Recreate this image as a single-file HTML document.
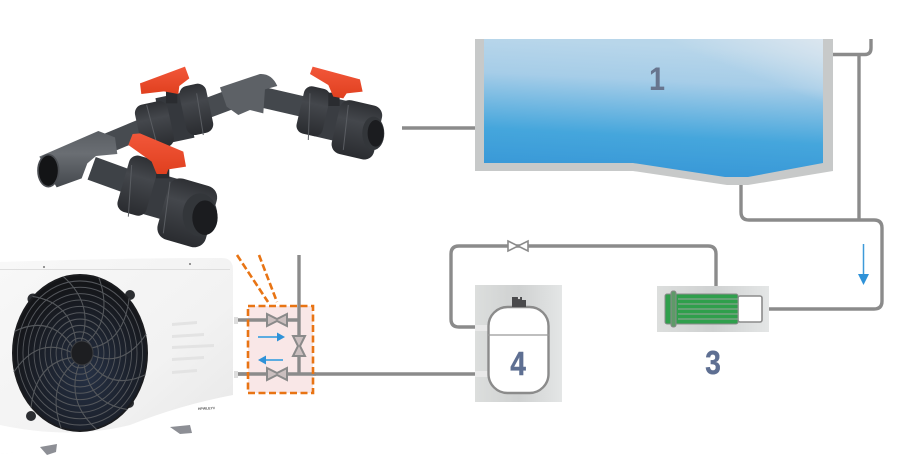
<!DOCTYPE html>
<html><head><meta charset="utf-8"><style>
html,body{margin:0;padding:0;background:#fff;width:898px;height:466px;overflow:hidden}
svg{display:block}
text{font-family:"Liberation Sans",sans-serif;font-weight:700}
</style></head><body>
<svg width="898" height="466" viewBox="0 0 898 466" xmlns="http://www.w3.org/2000/svg">
<defs>
<linearGradient id="water" x1="0.12" y1="0" x2="0" y2="1"><stop offset="0" stop-color="#b8d6ea"/><stop offset="0.25" stop-color="#a6cde8"/><stop offset="0.65" stop-color="#45a6dc"/><stop offset="1" stop-color="#3594d6"/></linearGradient>
<linearGradient id="water2" x1="1" y1="0" x2="0.55" y2="0.5"><stop offset="0" stop-color="#dbe6ef"/><stop offset="1" stop-color="#dbe6ef" stop-opacity="0"/></linearGradient>
<linearGradient id="box" x1="0" y1="0" x2="1" y2="0"><stop offset="0" stop-color="#dcdedd"/><stop offset="0.5" stop-color="#cfd1d1"/><stop offset="1" stop-color="#e4e6e6"/></linearGradient>
<linearGradient id="body" x1="0" y1="0" x2="1" y2="1"><stop offset="0" stop-color="#f8f8f8"/><stop offset="0.6" stop-color="#f2f2f2"/><stop offset="1" stop-color="#e6e6e6"/></linearGradient>
<linearGradient id="red" x1="0" y1="0" x2="0" y2="1"><stop offset="0" stop-color="#f2573a"/><stop offset="1" stop-color="#e0401f"/></linearGradient>
<linearGradient id="u" x1="0" y1="0" x2="0" y2="1"><stop offset="0" stop-color="#2e3034"/><stop offset="0.35" stop-color="#44474c"/><stop offset="1" stop-color="#2a2c30"/></linearGradient>
<linearGradient id="t" x1="0" y1="0" x2="0" y2="1"><stop offset="0" stop-color="#5a5e63"/><stop offset="0.4" stop-color="#6a6e73"/><stop offset="1" stop-color="#44484d"/></linearGradient>
<radialGradient id="fanbg" cx="0.55" cy="0.65" r="0.6"><stop offset="0" stop-color="#253044"/><stop offset="1" stop-color="#141518"/></radialGradient>
<path id="spoke" d="M0,-8 C10,-30 8,-52 -18,-72" fill="none" stroke="#55585c" stroke-width="1.100"/>
<g id="vv"><path d="M-10,-6 L0,-1 L10,-6 L10,6 L0,1 L-10,6Z" fill="#cbbfbf" stroke="#8a8a8a" stroke-width="2"/></g>
</defs>

<!-- Pool -->
<path d="M475,39H833V171L748,185H727L633,171H475Z" fill="#c7c9c9"/>
<path d="M484,39H823V163L748,177H725L633,163H484Z" fill="url(#water)"/>
<path d="M660,39H823V110Z" fill="url(#water2)"/>
<text x="657" y="90" font-size="32" text-anchor="middle" fill="#68758e" transform="translate(657 0) scale(.9 1) translate(-657 0)">1</text>

<!-- Pipes -->
<g fill="none" stroke="#8b8b8b" stroke-width="3.400">
<path d="M402,128H475"/>
<path d="M833,54.500H865Q871,54.500 871,48V39"/>
<path d="M859,54V220"/>
<path d="M741,185V212Q741,220 749,220H874Q882,220 882,228V301Q882,309 874,309H762"/>
<path d="M716,288V254Q716,246 708,246H459Q451,246 451,254V319Q451,327 459,327H476"/>
<path d="M237,374H475"/>
</g>
<path d="M508,241L518,246L528,241V251L518,246L508,251Z" fill="#fff" stroke="#8b8b8b" stroke-width="1.600"/>

<!-- Blue arrow right -->
<path d="M863.500,244V275" stroke="#3d9ad9" stroke-width="1.500"/>
<path d="M858,274H869L863.500,285Z" fill="#2f92d8"/>

<!-- Tank -->
<rect x="475" y="285" width="87" height="117" fill="url(#box)"/>
<rect x="475" y="325" width="13" height="6" fill="#e9e9e9"/>
<rect x="475" y="371" width="13" height="6" fill="#e9e9e9"/>
<rect x="488.500" y="307" width="60" height="86" rx="19" ry="19" fill="#fff" stroke="#8b8b8b" stroke-width="2.400"/>
<path d="M488,335H549" stroke="#999" stroke-width="1.200"/>
<path d="M512,307V297H522V300H526V307Z" fill="#4a4a4c"/><circle cx="519" cy="298" r="1.200" fill="#ddd"/>
<text x="518" y="375" font-size="33" text-anchor="middle" fill="#5e6f92" stroke="#5e6f92" stroke-width=".4" transform="translate(518 0) scale(.85 1) translate(-518 0)">4</text>

<!-- Heat exchanger -->
<rect x="657" y="286" width="112" height="46" fill="url(#box)"/>
<rect x="738" y="296" width="24" height="26" rx="2" fill="#fff" stroke="#8b8b8b" stroke-width="1.600"/>
<rect x="665" y="294" width="73" height="30" rx="2" fill="#2f9f4c" stroke="#8b8b8b" stroke-width="1"/>
<g stroke="#98a59b" stroke-width=".9"><path d="M678,299H738M678,304H738M678,309H738M678,314H738M678,319H738"/></g>
<rect x="671" y="291" width="5" height="36" rx="2" fill="#5e9a68" stroke="#8b8b8b" stroke-width="1"/>
<text x="713" y="374" font-size="33" text-anchor="middle" fill="#5e6f92" stroke="#5e6f92" stroke-width=".4" transform="translate(713 0) scale(.85 1) translate(-713 0)">3</text>

<!-- Valve box -->
<rect x="248" y="306" width="65" height="87" fill="#f9e7e7"/>
<path d="M237,320H298M299,255V374M237,374H316" fill="none" stroke="#8b8b8b" stroke-width="3.400"/>
<rect x="234" y="317" width="4" height="7" fill="#ddd"/><rect x="234" y="371" width="4" height="7" fill="#ddd"/>
<use href="#vv" x="277" y="320"/>
<use href="#vv" x="277" y="374"/>
<use href="#vv" transform="translate(299 346) rotate(90)"/>
<rect x="248" y="306" width="65" height="87" fill="none" stroke="#e87414" stroke-width="2.600" stroke-dasharray="7 3.500"/>
<path d="M237,255L268,302M259,255L277,302" stroke="#e87414" stroke-width="2.600" stroke-dasharray="7 3" fill="none"/>
<path d="M258,337H278" stroke="#46a3e0" stroke-width="1.800"/><path d="M277,332.500L285,337L277,341.500Z" fill="#2f92d8"/>
<path d="M283,360H265" stroke="#46a3e0" stroke-width="1.800"/><path d="M266,355.500L258,360L266,364.500Z" fill="#2f92d8"/>

<!-- Heat pump -->
<path d="M0,262Q110,258 222,258Q233,258 233,270V395Q233,410 222,413Q170,428 120,437Q60,448 0,454Z" fill="url(#body)"/>
<path d="M0,269.500H230" stroke="#dedede" stroke-width="1"/>
<path d="M0,425Q70,440 130,425Q180,405 233,395V410Q170,430 120,438Q60,449 0,454Z" fill="#fff"/>
<path d="M40,447L57,444L56,452L47,455Z" fill="#8d8f95"/><path d="M170,427L190,425L192,433L180,434Z" fill="#8d8f95"/>
<circle cx="44" cy="267" r="1" fill="#777"/><circle cx="190" cy="264" r="1" fill="#777"/>
<g fill="#e3e3e3"><path d="M172,323L197,321V324L172,326Z"/><path d="M172,335L204,333V336L172,338Z"/><path d="M172,346L214,344V347L172,349Z"/><path d="M172,358L204,356V359L172,361Z"/><path d="M172,371L197,369V372L172,374Z"/></g>
<circle cx="33" cy="299" r="5.500" fill="#2c2e32"/><circle cx="130" cy="295" r="5" fill="#2c2e32"/><circle cx="31" cy="416" r="5" fill="#2c2e32"/><circle cx="129" cy="403" r="5" fill="#2c2e32"/>
<ellipse cx="80" cy="353" rx="67" ry="78" fill="url(#fanbg)" stroke="#1b1c1f" stroke-width="2"/>
<g transform="translate(80 353) scale(.92 1.060)" fill="none" stroke="#54575c" stroke-width="1">
<circle r="14"/><circle r="20"/><circle r="26"/><circle r="32"/><circle r="38"/><circle r="44"/><circle r="50"/><circle r="56"/><circle r="62"/><circle r="68"/>
<use href="#spoke"/><use href="#spoke" transform="rotate(30)"/><use href="#spoke" transform="rotate(60)"/><use href="#spoke" transform="rotate(90)"/><use href="#spoke" transform="rotate(120)"/><use href="#spoke" transform="rotate(150)"/><use href="#spoke" transform="rotate(180)"/><use href="#spoke" transform="rotate(210)"/><use href="#spoke" transform="rotate(240)"/><use href="#spoke" transform="rotate(270)"/><use href="#spoke" transform="rotate(300)"/><use href="#spoke" transform="rotate(330)"/>
</g>
<ellipse cx="82" cy="353" rx="11" ry="12" fill="#1d1e21" stroke="#3a3c40" stroke-width="1"/>
<text x="198" y="410" font-size="3.500" fill="#555" transform="rotate(-3 198 410)">HPWLEY#</text>

<!-- Manifold valves -->
<g transform="translate(0 50) scale(.3333)" fill="none">
<!-- back pipes -->
<path d="M310,285L430,235" stroke="#474b50" stroke-width="60"/>
<path d="M620,175L700,145" stroke="#474b50" stroke-width="60"/>
<path d="M780,140L910,170" stroke="#43474c" stroke-width="62"/>
<!-- elbow T -->
<path d="M660,112L780,72Q815,70 832,108L795,118L790,190L750,180L715,195L680,170Z" fill="#5d6166"/>
<!-- front stem -->
<path d="M275,355L385,395" stroke="#3e4247" stroke-width="72"/>
<!-- left T -->
<path d="M118,320L295,243L345,262L352,312L288,318L262,340L245,385L170,412Z" fill="url(#t)"/>
<ellipse cx="145" cy="362" rx="31" ry="48" fill="#131416" stroke="#4a4d52" stroke-width="5"/>
<!-- valve 2 -->
<g transform="rotate(-12 520 205)">
<rect x="480" y="135" width="90" height="140" fill="#35383d"/>
<rect x="410" y="145" width="100" height="140" rx="26" fill="url(#u)"/>
<rect x="552" y="118" width="82" height="150" rx="26" fill="url(#u)"/>
</g>
<!-- valve right -->
<g transform="rotate(13 1020 215)">
<rect x="950" y="150" width="90" height="125" fill="#3a3d42"/>
<rect x="895" y="130" width="80" height="145" rx="24" fill="url(#u)"/>
<rect x="1010" y="145" width="130" height="165" rx="30" fill="url(#u)"/>
</g>
<ellipse cx="1120" cy="250" rx="33" ry="50" fill="#33363a"/>
<ellipse cx="1127" cy="250" rx="24" ry="40" fill="#1b1c1f"/>
<!-- valve front -->
<g transform="rotate(16 500 450)">
<rect x="430" y="380" width="100" height="130" fill="#383b40"/>
<rect x="360" y="345" width="90" height="175" rx="26" fill="url(#u)"/>
<rect x="495" y="375" width="150" height="190" rx="36" fill="url(#u)"/>
</g>
<ellipse cx="600" cy="495" rx="52" ry="65" fill="#33363a"/>
<ellipse cx="615" cy="503" rx="38" ry="52" fill="#1b1c1f"/>
<!-- ridges -->
<g stroke="#5a5d62" stroke-width="3">
<path d="M440,165L470,280M590,130L610,255M930,130L925,270M1045,165L1030,300M395,345L385,500M510,395L490,550"/>
</g>
<!-- stems -->
<rect x="498" y="120" width="34" height="40" fill="#2a2c30"/>
<rect x="985" y="128" width="34" height="40" fill="#2a2c30"/>
<rect x="468" y="345" width="40" height="40" fill="#2a2c30"/>
<!-- handles -->
<path d="M420,100L555,50L568,85L538,108L535,132L492,124L424,132Z" fill="url(#red)"/>
<path d="M930,72L938,50L1080,88L1088,125L1040,130L1030,145L1000,140L985,105Z" fill="url(#red)"/>
<path d="M385,285L398,252L420,250L550,305L558,350L505,358L500,372L470,372L455,335Z" fill="url(#red)"/>
</g>
</svg>
</body></html>
